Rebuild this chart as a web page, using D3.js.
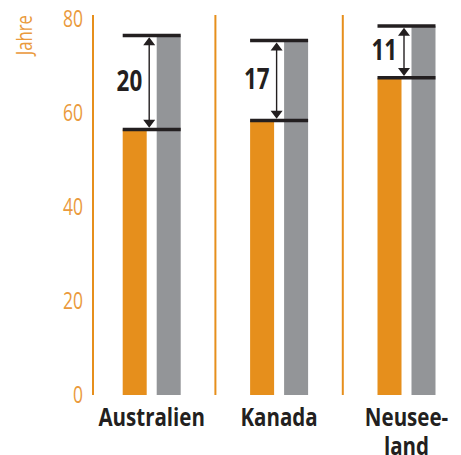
<!DOCTYPE html>
<html lang="de">
<head>
<meta charset="utf-8"/>
<title>Lebenserwartung</title>
<style>
  body { margin: 0; background: #fff; overflow: hidden; }
  svg { display: block; font-family: "Open Sans", sans-serif; }
</style>
</head>
<body>
<svg width="461" height="455"></svg>
<script src="https://d3js.org/d3.v7.min.js"></script>
<script>

// Werte (Jahre)
var laender = ["Australien", "Kanada", "Neuseeland"];
var beschriftung = [["Australien"], ["Kanada"], ["Neusee-", "land"]];
var indigen = [56.5, 58.4, 67.5];
var gesamt = [76.5, 75.4, 78.5];
var abstand = ["20", "17", "11"];
var jahreTicks = [0, 20, 40, 60, 80];

var orange = "#e68f1c",
    orangeText = "#ea9a3c",
    grau = "#939598",
    dunkel = "#231f20";

var svg = d3.select("svg"),
    achseX = 93,
    oben = 15;

var y = d3.scaleLinear().domain([0, 80]).range([395, 19]);

var x = d3.scaleBand().domain(laender).range([88, 470.2]);

var innen = d3.scaleBand()
    .domain(["indigen", "gesamt"])
    .range([0, 58])
    .paddingInner(0.294);

// schmale Schrift nachbilden
function schmal(sel, f) {
  sel.each(function() {
    var l = this.getComputedTextLength();
    d3.select(this).attr("textLength", l * f).attr("lengthAdjust", "spacingAndGlyphs");
  });
}

// Trennlinien
svg.append("g").selectAll("line")
    .data([achseX, x(laender[1]), x(laender[2])])
    .enter().append("line")
      .attr("x1", function(d) { return d; })
      .attr("x2", function(d) { return d; })
      .attr("y1", oben)
      .attr("y2", y(0))
      .attr("stroke", orange)
      .attr("stroke-width", 2);

// y-Achse
var achse = svg.append("g")
    .attr("transform", "translate(" + achseX + ",0)")
    .call(d3.axisLeft(y).tickValues(jahreTicks).tickSize(0).tickPadding(10));
achse.select(".domain").remove();
achse.selectAll("text")
    .attr("fill", orangeText)
    .style("font-size", "23px")
    .style("font-weight", 400)
    .style("font-family", "'Open Sans', sans-serif")
    .call(schmal, 0.76);

svg.append("text")
    .attr("transform", "translate(32,15) rotate(-90)")
    .attr("text-anchor", "end")
    .attr("fill", orangeText)
    .style("font-size", "22px")
    .style("font-weight", 400)
    .text("Jahre")
    .call(schmal, 0.76);

var gruppe = function(i) { return x(laender[i]) + (x.bandwidth() - 58) / 2; };

// Balken
laender.forEach(function(land, i) {
  var g = svg.append("g").attr("transform", "translate(" + gruppe(i) + ",0)");

  g.append("rect")
      .attr("x", innen("indigen"))
      .attr("y", y(indigen[i]))
      .attr("width", innen.bandwidth())
      .attr("height", y(0) - y(indigen[i]))
      .attr("fill", orange);

  g.append("rect")
      .attr("x", innen("gesamt"))
      .attr("y", y(gesamt[i]))
      .attr("width", innen.bandwidth())
      .attr("height", y(0) - y(gesamt[i]))
      .attr("fill", grau);

  // Markierungslinien
  g.selectAll("line.kappe")
      .data([indigen[i], gesamt[i]])
      .enter().append("line")
        .attr("class", "kappe")
        .attr("x1", 0)
        .attr("x2", 58)
        .attr("y1", function(d) { return y(d); })
        .attr("y2", function(d) { return y(d); })
        .attr("stroke", dunkel)
        .attr("stroke-width", 3.5);

  // Doppelpfeil
  var px = innen("indigen") + innen.bandwidth() + 2.5,
      y1 = y(gesamt[i]) + 1.8,
      y2 = y(indigen[i]) - 1.8,
      kopf = 8, halb = 6;

  g.append("line")
      .attr("x1", px).attr("x2", px)
      .attr("y1", y1 + kopf - 1).attr("y2", y2 - kopf + 1)
      .attr("stroke", dunkel)
      .attr("stroke-width", 1.4);

  g.append("path")
      .attr("d", "M" + px + "," + y1 + "L" + (px + halb) + "," + (y1 + kopf) + "L" + (px - halb) + "," + (y1 + kopf) + "Z" +
                 "M" + px + "," + y2 + "L" + (px + halb) + "," + (y2 - kopf) + "L" + (px - halb) + "," + (y2 - kopf) + "Z")
      .attr("fill", dunkel);

  g.append("text")
      .attr("x", px - 7)
      .attr("y", (y1 + y2) / 2 + 8.5)
      .attr("text-anchor", "end")
      .attr("fill", dunkel)
      .style("font-size", "28px")
      .style("font-weight", 700)
      .text(abstand[i])
      .call(schmal, 0.8);

  // Ländername
  var t = svg.append("text")
      .attr("text-anchor", "middle")
      .attr("fill", dunkel)
      .style("font-size", "25px")
      .style("font-weight", 700);
  t.selectAll("tspan")
      .data(beschriftung[i])
      .enter().append("tspan")
        .attr("x", x(land) + x.bandwidth() / 2)
        .attr("y", function(d, k) { return 426 + k * 29; })
        .text(function(d) { return d; })
        .call(schmal, 0.82);
});

</script>
</body>
</html>
